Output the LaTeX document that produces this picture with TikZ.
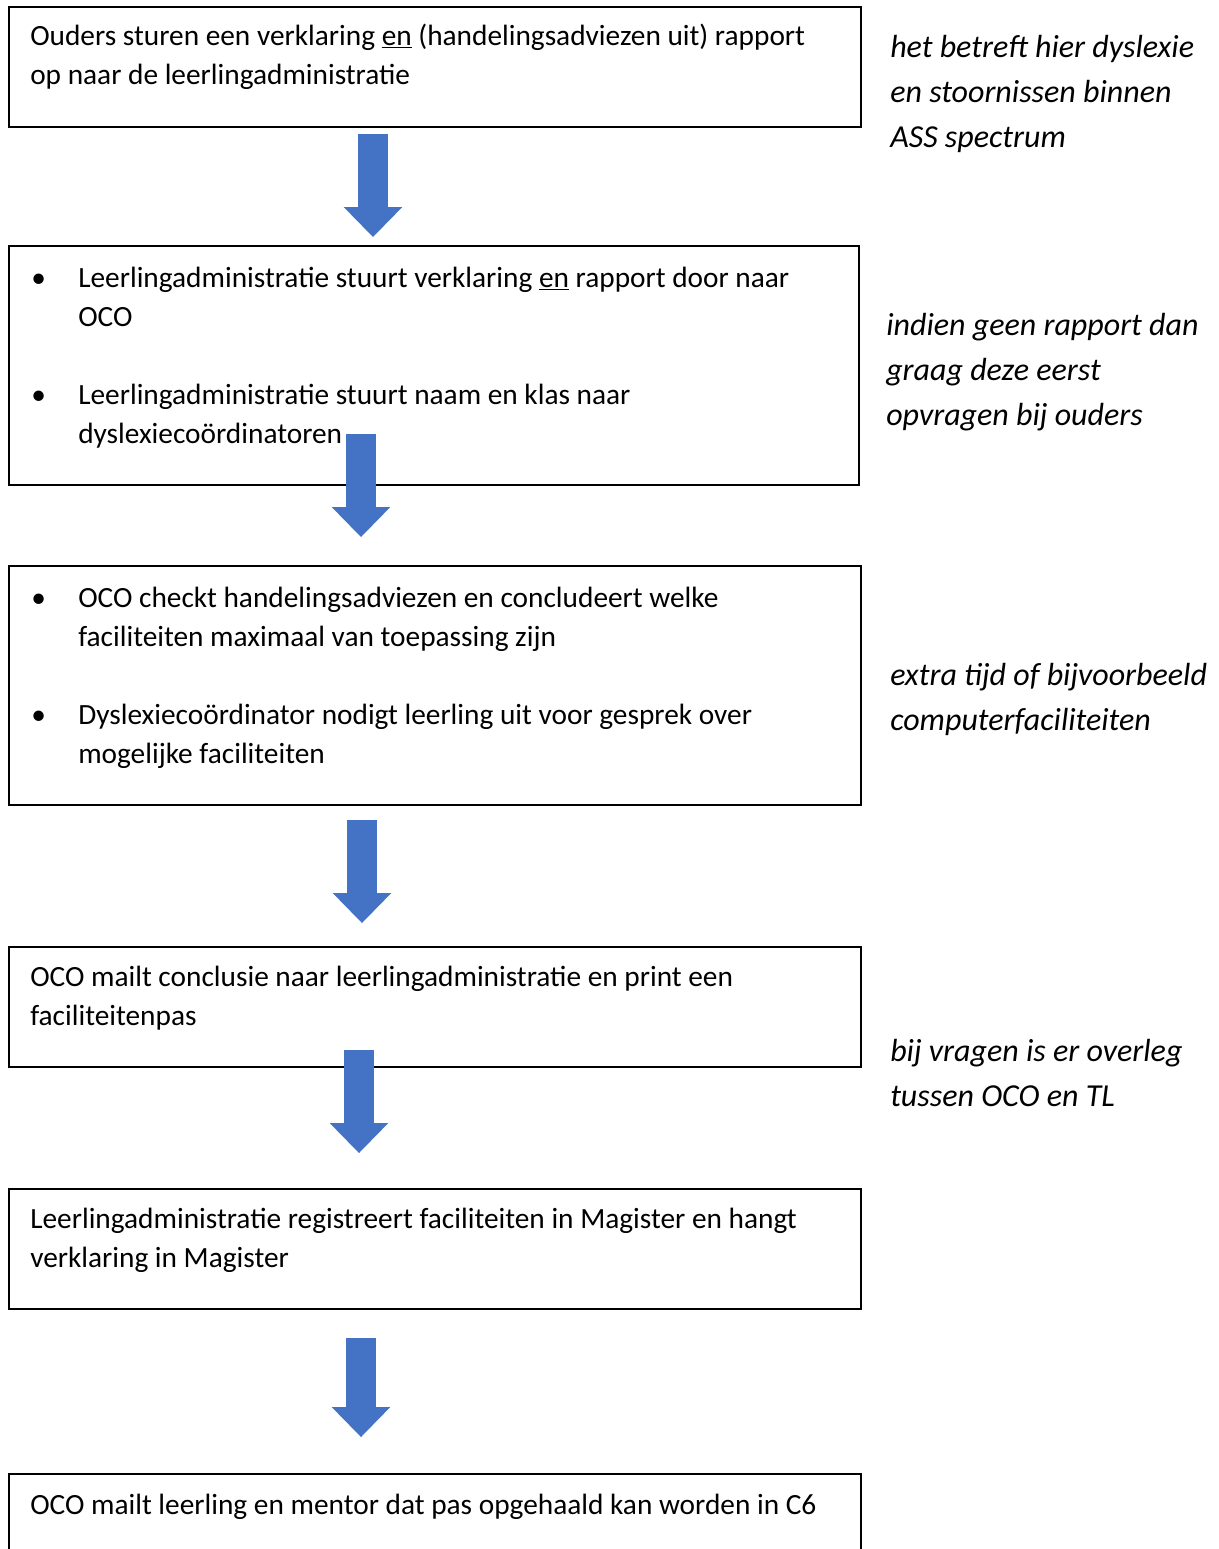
\documentclass[tikz,border=0pt]{standalone}
\usepackage{fontspec}
\setmainfont{Carlito}
\usetikzlibrary{arrows.meta,positioning}

\definecolor{arrowblue}{HTML}{4472C4}

\tikzset{
  flowbox/.style={draw=black, line width=1.2pt, inner sep=0pt, anchor=north west},
  boxtext/.style={anchor=base west, inner sep=0pt, align=left, font=\fontsize{22}{29.25}\selectfont},
  bullettext/.style={boxtext},
  notetext/.style={anchor=base west, inner sep=0pt, align=left, font=\fontsize{24}{33.75}\selectfont\itshape},
  flowarrow/.style={draw=arrowblue, line width=23pt, -{Triangle[width=44pt,length=22.5pt,line width=0pt 0 0]}}
}

\begin{document}
\begin{tikzpicture}[x=0.75pt, y=-0.75pt]
  \clip (0,0) rectangle (1219,1549);
  \fill[white] (0,0) rectangle (1219,1549);

  \node [flowbox, minimum width=639pt, minimum height=90pt] at (8,6) (ouders) {};
  \node [flowbox, minimum width=637.5pt, minimum height=179.25pt] at (8,245) (admin) {};
  \node [flowbox, minimum width=639pt, minimum height=179.25pt] at (8,565) (check) {};
  \node [flowbox, minimum width=639pt, minimum height=90pt] at (8,946) (conclusie) {};
  \node [flowbox, minimum width=639pt, minimum height=90pt] at (8,1188) (magister) {};
  \node [flowbox, minimum width=639pt, minimum height=90pt] at (8,1473) (pas) {};

  % base of a node with two lines is the last line
  \node [boxtext] at (30,84) (ouderstxt) {Ouders sturen een verklaring \underline{en} (handelingsadviezen uit) rapport\\op naar de leerlingadministratie};

  \node [bullettext] at (31,287) (b1) {\textbullet};
  \node [boxtext] at (78,326) (admintxt1) {Leerlingadministratie stuurt verklaring \underline{en} rapport door naar\\OCO};
  \node [bullettext] at (31,404) (b2) {\textbullet};
  \node [boxtext] at (78,443) (admintxt2) {Leerlingadministratie stuurt naam en klas naar\\dyslexiecoördinatoren};

  \node [bullettext] at (31,607) (b3) {\textbullet};
  \node [boxtext] at (78,646) (checktxt1) {OCO checkt handelingsadviezen en concludeert welke\\faciliteiten maximaal van toepassing zijn};
  \node [bullettext] at (31,724) (b4) {\textbullet};
  \node [boxtext] at (78,763) (checktxt2) {Dyslexiecoördinator nodigt leerling uit voor gesprek over\\mogelijke faciliteiten};

  \node [boxtext] at (30,1025) (conclusietxt) {OCO mailt conclusie naar leerlingadministratie en print een\\faciliteitenpas};
  \node [boxtext] at (30,1267) (magistertxt) {Leerlingadministratie registreert faciliteiten in Magister en hangt\\verklaring in Magister};
  \node [boxtext] at (30,1514) (pastxt) {OCO mailt leerling en mentor dat pas opgehaald kan worden in C6};

  \node [notetext] at (890,147) (note1) {het betreft hier dyslexie\\en stoornissen binnen\\ASS spectrum};
  \node [notetext] at (886,425) (note2) {indien geen rapport dan\\graag deze eerst\\opvragen bij ouders};
  \node [notetext] at (890,730) (note3) {extra tijd of bijvoorbeeld\\computerfaciliteiten};
  \node [notetext] at (890,1106) (note4) {bij vragen is er overleg\\tussen OCO en TL};

  \coordinate (a1s) at (373,134);
  \coordinate (a1e) at (373,237);
  \coordinate (a2s) at (361,434);
  \coordinate (a2e) at (361,537);
  \coordinate (a3s) at (362,820);
  \coordinate (a3e) at (362,923);
  \coordinate (a4s) at (359,1050);
  \coordinate (a4e) at (359,1153);
  \coordinate (a5s) at (361,1338);
  \coordinate (a5e) at (361,1437);

  \draw [flowarrow] (a1s) -- (a1e);
  \draw [flowarrow] (a2s) -- (a2e);
  \draw [flowarrow] (a3s) -- (a3e);
  \draw [flowarrow] (a4s) -- (a4e);
  \draw [flowarrow] (a5s) -- (a5e);
\end{tikzpicture}
\end{document}
